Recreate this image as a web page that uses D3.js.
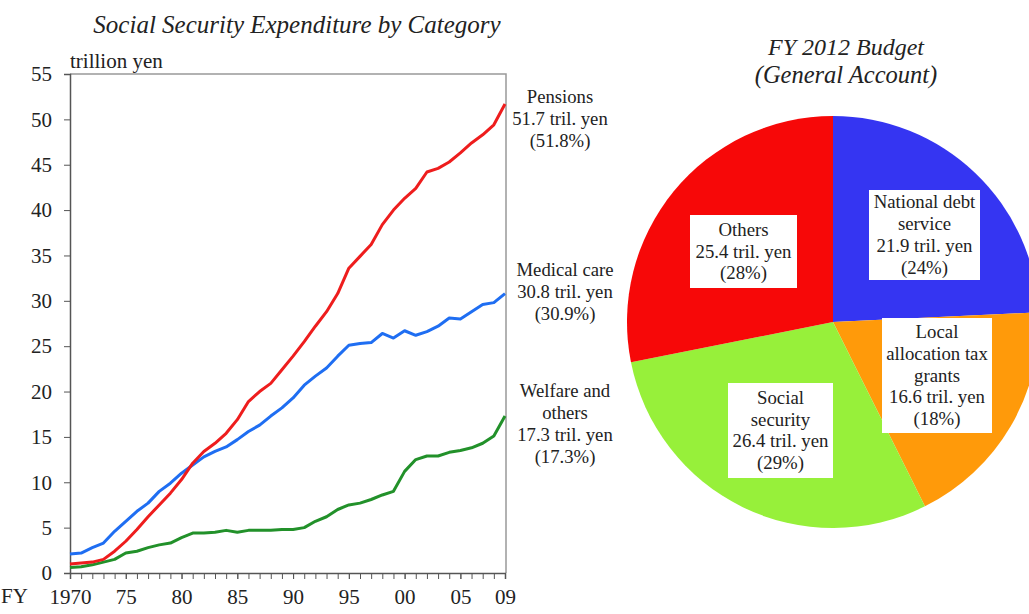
<!DOCTYPE html>
<html>
<head>
<meta charset="utf-8">
<script src="https://cdn.jsdelivr.net/npm/d3@7"></script>
<style>
  body { margin: 0; background: #fff; }
  svg { display: block; font-family: "Liberation Serif", "Times New Roman", serif; }
  .axis path, .axis line { stroke: #555; }
  .axis text { font-family: "Liberation Serif", serif; font-size: 21px; fill: #222; }
</style>
</head>
<body>
<svg id="chart" width="1029" height="614"></svg>
<script>
// --- data: social security expenditure (trillion yen), FY1970-2009
const years = d3.range(1970, 2010);
const pensions = [1.0, 1.1, 1.2, 1.5, 2.4, 3.5, 4.8, 6.2, 7.5, 8.8,
  10.3, 12.1, 13.4, 14.3, 15.4, 16.9, 18.9, 20.0, 20.9, 22.4,
  23.9, 25.5, 27.2, 28.8, 30.8, 33.6, 34.9, 36.2, 38.4, 40.0,
  41.3, 42.4, 44.2, 44.6, 45.3, 46.3, 47.4, 48.3, 49.4, 51.7];
const medical = [2.1, 2.2, 2.8, 3.3, 4.6, 5.7, 6.8, 7.7, 9.0, 9.9,
  11.0, 11.9, 12.8, 13.4, 13.9, 14.7, 15.6, 16.3, 17.3, 18.2,
  19.3, 20.7, 21.7, 22.6, 23.9, 25.1, 25.3, 25.4, 26.4, 25.9,
  26.7, 26.2, 26.6, 27.2, 28.1, 28.0, 28.8, 29.6, 29.8, 30.8];
const welfare = [0.6, 0.7, 0.9, 1.2, 1.5, 2.2, 2.4, 2.8, 3.1, 3.3,
  3.9, 4.4, 4.4, 4.5, 4.7, 4.5, 4.7, 4.7, 4.7, 4.8,
  4.8, 5.0, 5.7, 6.2, 7.0, 7.5, 7.7, 8.1, 8.6, 9.0,
  11.2, 12.5, 12.9, 12.9, 13.3, 13.5, 13.8, 14.3, 15.1, 17.3];
const yTicks = d3.range(0, 56, 5);
const xLabelYears = [1970, 1975, 1980, 1985, 1990, 1995, 2000, 2005, 2009];
const xLabelText = ["1970", "75", "80", "85", "90", "95", "00", "05", "09"];

// --- data: FY2012 budget (general account)
const budgetNames = ["National debt service", "Local allocation tax grants", "Social security", "Others"];
const budgetValues = [21.9, 16.6, 26.4, 25.4];
const budgetShares = ["24%", "18%", "29%", "28%"];

const svg = d3.select("#chart");

// ---------------- line chart ----------------
const x = d3.scaleLinear().domain([1970, 2009]).range([70, 505]);
const y = d3.scaleLinear().domain([0, 55]).range([573, 74]);

svg.append("text")
  .attr("x", 297).attr("y", 33)
  .attr("text-anchor", "middle")
  .style("font-style", "italic").style("font-size", "25px").attr("fill", "#222")
  .text("Social Security Expenditure by Category");

svg.append("text")
  .attr("x", 70).attr("y", 68)
  .style("font-size", "21px").attr("fill", "#222")
  .text("trillion yen");

// frame (top and right)
svg.append("path")
  .attr("d", `M${x(1970)},${y(55)}H${x(2009) + 1}V${y(0)}`)
  .attr("fill", "none").attr("stroke", "#999").attr("stroke-width", 1.5);

svg.append("g").attr("class", "axis")
  .attr("transform", `translate(${x(1970)},0)`)
  .call(d3.axisLeft(y).tickValues(yTicks).tickSize(6).tickPadding(12).tickFormat(d3.format("d")))
  .call(g => g.select(".domain").attr("stroke-width", 1.5));

svg.append("g").attr("class", "axis")
  .attr("transform", `translate(0,${y(0)})`)
  .call(d3.axisBottom(x).tickValues(years).tickSize(6).tickFormat(""))
  .call(g => g.select(".domain").attr("stroke-width", 1.5));

svg.append("g").attr("class", "axis")
  .attr("transform", `translate(0,${y(0)})`)
  .call(d3.axisBottom(x).tickValues(xLabelYears).tickSize(6).tickPadding(10)
    .tickFormat((d, i) => xLabelText[i]))
  .call(g => g.select(".domain").remove());

svg.append("text")
  .attr("x", 1).attr("y", 603)
  .style("font-size", "21px").attr("fill", "#222")
  .text("FY");

const line = d3.line().x((d, i) => x(years[i])).y(d => y(d));
const series = [
  { values: welfare, color: "#22912a" },
  { values: medical, color: "#1f6ef2" },
  { values: pensions, color: "#ee1d1d" }
];
svg.selectAll(".series").data(series).enter().append("path")
  .attr("class", "series")
  .attr("d", d => line(d.values))
  .attr("fill", "none")
  .attr("stroke", d => d.color)
  .attr("stroke-width", 3)
  .attr("stroke-linejoin", "round");

const endLabels = [
  { cx: 560, top: 103, lines: ["Pensions", "51.7 tril. yen", "(51.8%)"] },
  { cx: 565, top: 276, lines: ["Medical care", "30.8 tril. yen", "(30.9%)"] },
  { cx: 565, top: 397, lines: ["Welfare and", "others", "17.3 tril. yen", "(17.3%)"] }
];
endLabels.forEach(l => {
  const t = svg.append("text")
    .attr("text-anchor", "middle").style("font-size", "18.7px").attr("fill", "#222");
  l.lines.forEach((s, i) => t.append("tspan").attr("x", l.cx).attr("y", l.top + i * 22).text(s));
});

// ---------------- pie chart ----------------
const pieCx = 833, pieCy = 322, radius = 206;
const pieColors = ["#3535f2", "#ff9a0a", "#97f03a", "#f70808"];

svg.append("text")
  .attr("x", 846).attr("y", 55)
  .attr("text-anchor", "middle")
  .style("font-style", "italic").style("font-size", "24px").attr("fill", "#222")
  .text("FY 2012 Budget");
svg.append("text")
  .attr("x", 846).attr("y", 83)
  .attr("text-anchor", "middle")
  .style("font-style", "italic").style("font-size", "24.5px").attr("fill", "#222")
  .text("(General Account)");

const pie = d3.pie().sort(null).value(d => d);
const arc = d3.arc().innerRadius(0).outerRadius(radius);
const pg = svg.append("g").attr("transform", `translate(${pieCx},${pieCy})`);
pg.selectAll("path").data(pie(budgetValues)).enter().append("path")
  .attr("d", arc)
  .attr("fill", (d, i) => pieColors[i]);

// label boxes (offsets from pie centre)
const boxes = [
  { dx: 36, dy: -132, w: 111, h: 90, lines: ["National debt", "service", budgetValues[0] + " tril. yen", "(" + budgetShares[0] + ")"] },
  { dx: 49, dy: -4, w: 110, h: 115, lines: ["Local", "allocation tax", "grants", budgetValues[1] + " tril. yen", "(" + budgetShares[1] + ")"] },
  { dx: -105, dy: 61, w: 105, h: 95, lines: ["Social", "security", budgetValues[2] + " tril. yen", "(" + budgetShares[2] + ")"] },
  { dx: -143, dy: -107, w: 107, h: 73, lines: ["Others", budgetValues[3] + " tril. yen", "(" + budgetShares[3] + ")"] }
];
boxes.forEach(b => {
  const bg = pg.append("g").attr("transform", `translate(${b.dx},${b.dy})`);
  bg.append("rect").attr("width", b.w).attr("height", b.h).attr("fill", "#fff");
  const n = b.lines.length;
  const startY = b.h / 2 - (n - 1) * 21.7 / 2 + 6;
  const t = bg.append("text").attr("text-anchor", "middle")
    .style("font-size", "18.8px").attr("fill", "#222");
  b.lines.forEach((s, i) => t.append("tspan").attr("x", b.w / 2).attr("y", startY + i * 21.7).text(s));
});
</script>
</body>
</html>
